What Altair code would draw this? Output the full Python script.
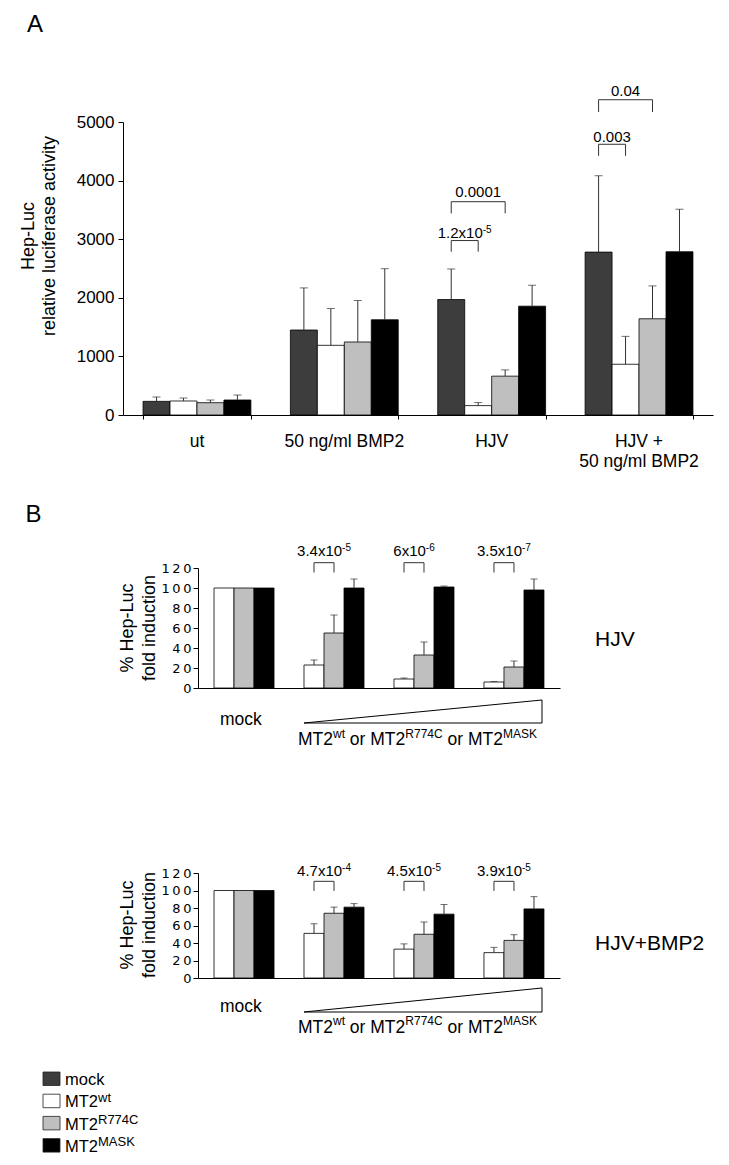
import altair as alt
import pandas as pd

FONT = "Liberation Sans"
FONT_B_TICKS = "DejaVu Sans"

# ---------------- data ----------------
series = ["mock", "MT2wt", "MT2R774C", "MT2MASK"]
series_colors = ["#3d3d3d", "#ffffff", "#bfbfbf", "#000000"]
legend_main = ["mock", "MT2", "MT2", "MT2"]
legend_sup = ["", "wt", "R774C", "MASK"]

# Panel A
a_conditions = ["ut", "50 ng/ml BMP2", "HJV", "HJV +\n50 ng/ml BMP2"]
a_mock = [233, 1450, 1970, 2780]
a_wt = [239, 1189, 160, 866]
a_r774c = [210, 1246, 663, 1642]
a_mask = [256, 1625, 1857, 2786]
a_mock_top = [307, 2169, 2492, 4083]
a_wt_top = [290, 1818, 212, 1342]
a_r774c_top = [256, 1954, 770, 2203]
a_mask_top = [341, 2497, 2214, 3511]
a_ticks = [0, 1000, 2000, 3000, 4000, 5000]

a_p_cond = ["HJV", "HJV", "HJV +\n50 ng/ml BMP2", "HJV +\n50 ng/ml BMP2"]
a_p_from = ["mock", "mock", "mock", "mock"]
a_p_to = ["MT2wt", "MT2R774C", "MT2wt", "MT2R774C"]
a_p_low = [2787, 3440, 4422, 5170]
a_p_high = [2977, 3640, 4620, 5380]
a_p_text = [3015, 3724, 4659, 5440]
a_p_main = ["1.2x10", "0.0001", "0.003", "0.04"]
a_p_sup = ["-5", "", "", ""]

# Panel B
b_groups = ["mock", "dose 1", "dose 2", "dose 3"]
b_series = ["MT2wt", "MT2R774C", "MT2MASK"]
b_ticks = [0, 20, 40, 60, 80, 100, 120]

hjv_wt = [100, 23, 9, 6]
hjv_r774c = [100, 55, 33, 21]
hjv_mask = [100, 100, 101, 98]
hjv_wt_top = [None, 28, 10, 6.5]
hjv_r774c_top = [None, 73, 46, 27]
hjv_mask_top = [None, 109, 102, 109]
hjv_p_group = ["dose 1", "dose 2", "dose 3"]
hjv_p_main = ["3.4x10", "6x10", "3.5x10"]
hjv_p_sup = ["-5", "-6", "-7"]
hjv_p_low = [115.5, 115.5, 115.5]
hjv_p_high = [125.3, 125.3, 125.3]
hjv_p_text = [132, 132, 132]

bmp_wt = [100, 51, 33, 29]
bmp_r774c = [100, 74, 50, 43]
bmp_mask = [100, 81, 73, 79]
bmp_wt_top = [None, 62, 39, 35]
bmp_r774c_top = [None, 81, 64, 49.5]
bmp_mask_top = [None, 85, 84, 93]
bmp_p_group = ["dose 1", "dose 2", "dose 3"]
bmp_p_main = ["4.7x10", "4.5x10", "3.9x10"]
bmp_p_sup = ["-4", "-5", "-5"]
bmp_p_low = [99.5, 99.5, 99.5]
bmp_p_high = [110.5, 110.5, 110.5]
bmp_p_text = [117, 117, 117]

# ---------------- helpers ----------------
ARIAL = {".": 0.278, "x": 0.5, "-": 0.333, " ": 0.278, "M": 0.833, "T": 0.611,
         "o": 0.556, "r": 0.333, "w": 0.722, "t": 0.278, "R": 0.722, "C": 0.722,
         "A": 0.667, "S": 0.667, "K": 0.667, "m": 0.833, "c": 0.5, "k": 0.5}


def tw(s, size):
    return sum(ARIAL.get(ch, 0.556) for ch in s) * size


dummy = pd.DataFrame({"k": [0]})
color_enc = alt.Color("series:N", scale=alt.Scale(domain=series, range=series_colors), legend=None)


def values_df(cats, sers, means, tops):
    rows = []
    for s, m, t in zip(sers, means, tops):
        for c, v, tv in zip(cats, m, t):
            rows.append({"cat": c, "series": s, "value": v, "top": tv})
    return pd.DataFrame(rows)


def bracket_df(cats, froms, tos, lows, highs):
    rows = []
    for i, (c, f, t, lo, hi) in enumerate(zip(cats, froms, tos, lows, highs)):
        rows += [
            {"id": i, "ord": 0, "cat": c, "series": f, "yv": lo},
            {"id": i, "ord": 1, "cat": c, "series": f, "yv": hi},
            {"id": i, "ord": 2, "cat": c, "series": t, "yv": hi},
            {"id": i, "ord": 3, "cat": c, "series": t, "yv": lo},
        ]
    return pd.DataFrame(rows)


def make_panel(df, cats, sers, xrange, pin, pout, ydom, yrange, yaxis, xaxis,
               cap, br_df, p_cats, p_from, p_to, p_text, p_main, p_sup,
               p_size, p_sup_size, p_raise):
    xs = alt.Scale(domain=cats, range=xrange, paddingInner=pin, paddingOuter=pout)
    xo = alt.Scale(domain=sers, paddingInner=0, paddingOuter=0)
    ys = alt.Scale(domain=ydom, range=yrange, nice=False, zero=False)
    X = alt.X("cat:N", scale=xs, axis=xaxis, title=None)
    XO = alt.XOffset("series:N", scale=xo)

    def Y(f):
        return alt.Y(f"{f}:Q", scale=ys, axis=yaxis, title=None)

    step = (xrange[1] - xrange[0]) / (len(cats) - pin + 2 * pout)
    sub = step * (1 - pin) / len(sers)

    base = alt.Chart(df)
    bars = base.mark_bar(stroke="black", strokeWidth=0.8).encode(
        x=X, xOffset=XO, y=Y("value"), color=color_enc)
    err = base.transform_filter("isValid(datum.top)").mark_rule(
        color="#333333", strokeWidth=1).encode(x=X, xOffset=XO, y=Y("value"), y2="top:Q")
    caps = base.transform_filter("isValid(datum.top)").mark_tick(
        orient="horizontal", size=cap, thickness=1, color="#333333").encode(
        x=X, xOffset=XO, y=Y("top"))
    brackets = alt.Chart(br_df).mark_line(color="#333333", strokeWidth=1).encode(
        x=X, xOffset=XO, y=Y("yv"), detail="id:N", order="ord:Q")
    layers = [bars, err, caps, brackets]
    for c, f, t, ty, m, s in zip(p_cats, p_from, p_to, p_text, p_main, p_sup):
        off = (sers.index(t) - sers.index(f)) / 2 * sub
        wm = tw(m, p_size)
        ws = tw(s, p_sup_size) if s else 0
        left = off - (wm + ws) / 2
        d = pd.DataFrame({"cat": [c], "series": [f], "ty": [ty]})
        layers.append(alt.Chart(d).mark_text(
            align="left", baseline="alphabetic", dx=left, fontSize=p_size, font=FONT,
            color="black").encode(x=X, xOffset=XO, y=Y("ty"), text=alt.value(m)))
        if s:
            layers.append(alt.Chart(d).mark_text(
                align="left", baseline="alphabetic", dx=left + wm, dy=-p_raise,
                fontSize=p_sup_size, font=FONT, color="black").encode(
                x=X, xOffset=XO, y=Y("ty"), text=alt.value(s)))
    return layers, X


def free_text(txt, x, y, size, align="left", baseline="alphabetic", angle=0, line_height=None):
    kw = dict(align=align, baseline=baseline, fontSize=size, font=FONT, color="black")
    if angle:
        kw["angle"] = angle
    if line_height:
        kw["lineBreak"] = "\n"
        kw["lineHeight"] = line_height
    return alt.Chart(dummy).mark_text(**kw).encode(
        x=alt.value(x), y=alt.value(y), text=alt.value(txt))


def composite(pieces, x0, base, main_size, sup_size, raise_px):
    out = []
    x = x0
    for txt, sup in pieces:
        size = sup_size if sup else main_size
        lead = len(txt) - len(txt.lstrip(" "))
        x += tw(" " * lead, size)
        t = txt.strip(" ")
        out.append(free_text(t, x, base - (raise_px if sup else 0), size))
        x += tw(t, size)
    return out


def seg(x1, y1, x2, y2):
    return alt.Chart(dummy).mark_rule(color="black", strokeWidth=1).encode(
        x=alt.value(x1), y=alt.value(y1), x2=alt.value(x2), y2=alt.value(y2))


# ---------------- panel A ----------------
H_TOTAL = 1149
a_df = values_df(a_conditions, series, [a_mock, a_wt, a_r774c, a_mask],
                 [a_mock_top, a_wt_top, a_r774c_top, a_mask_top])
a_br = bracket_df(a_p_cond, a_p_from, a_p_to, a_p_low, a_p_high)
a_yaxis = alt.Axis(orient="left", offset=-115, values=a_ticks, tickSize=5, labelFontSize=17,
                   labelFont=FONT, labelPadding=4, labelColor="black", domainColor="black",
                   tickColor="black", grid=False, title=None, format="d")
a_xaxis = alt.Axis(orient="bottom", offset=-(H_TOTAL - 407), labels=False, tickBand="extent",
                   tickSize=4, domainColor="black", tickColor="black", grid=False, title=None)
a_layers, a_X = make_panel(a_df, a_conditions, series, [115, 705], 0.268, 0.136, [0, 5000],
                           [407, 114], a_yaxis, a_xaxis, 8, a_br, a_p_cond, a_p_from, a_p_to,
                           a_p_text, a_p_main, a_p_sup, 15, 10, 5)
a_cat = alt.Chart(pd.DataFrame({"cat": a_conditions})).mark_text(
    baseline="top", lineBreak="\n", lineHeight=20, fontSize=17.5, font=FONT, color="black").encode(
    x=a_X, y=alt.value(425), text="cat:N")
panel_a = alt.layer(*a_layers, a_cat)

# ---------------- panel B ----------------
def b_panel(wt, r, m, wt_t, r_t, m_t, yrange, p_group, p_main, p_sup, p_low, p_high, p_text):
    df = values_df(b_groups, b_series, [wt, r, m], [wt_t, r_t, m_t])
    br = bracket_df(p_group, ["MT2wt"] * 3, ["MT2R774C"] * 3, p_low, p_high)
    yaxis = alt.Axis(orient="left", offset=-190, values=b_ticks, tickSize=5, labelFontSize=13,
                     labelFont=FONT_B_TICKS, labelPadding=2, labelColor="black",
                     domainColor="black", tickColor="black", grid=False, title=None,
                     labelExpr="join(split(datum.label, ''), '\u2009')")
    xaxis = alt.Axis(orient="bottom", offset=-(H_TOTAL - yrange[0]), labels=False, ticks=False,
                     domainColor="black", grid=False, title=None)
    layers, _ = make_panel(df, b_groups, b_series, [190, 552], 0.333, 0.178, [0, 120], yrange,
                           yaxis, xaxis, 7, br, p_group, ["MT2wt"] * 3, ["MT2R774C"] * 3,
                           p_text, p_main, p_sup, 15, 10, 5)
    return alt.layer(*layers)


panel_b1 = b_panel(hjv_wt, hjv_r774c, hjv_mask, hjv_wt_top, hjv_r774c_top, hjv_mask_top,
                   [680, 560], hjv_p_group, hjv_p_main, hjv_p_sup, hjv_p_low, hjv_p_high, hjv_p_text)
panel_b2 = b_panel(bmp_wt, bmp_r774c, bmp_mask, bmp_wt_top, bmp_r774c_top, bmp_mask_top,
                   [970, 865], bmp_p_group, bmp_p_main, bmp_p_sup, bmp_p_low, bmp_p_high, bmp_p_text)

# ---------------- legend ----------------
leg_df = pd.DataFrame({"series": series, "main": legend_main, "sup": legend_sup})
ly = alt.Y("series:N", scale=alt.Scale(domain=series, range=[1064, 1144.1], paddingInner=0.392,
                                       paddingOuter=0), axis=None)
leg_rect = alt.Chart(leg_df).mark_rect(stroke="#222222", strokeWidth=0.8).encode(
    x=alt.value(35), x2=alt.value(52), y=ly, color=color_enc)
leg_main = alt.Chart(leg_df).mark_text(align="left", baseline="alphabetic", dy=6.5, fontSize=16.5,
                                       font=FONT, color="black").encode(
    x=alt.value(57), y=ly, text="main:N")
leg_sup = alt.Chart(leg_df).mark_text(align="left", baseline="alphabetic", dy=1, fontSize=13,
                                      font=FONT, color="black").encode(
    x=alt.value(57 + tw("MT2", 16.5)), y=ly, text="sup:N")
legend = alt.layer(leg_rect, leg_main, leg_sup)

# ---------------- free texts / decorations ----------------
mt2_pieces = [("MT2", False), ("wt", True), (" or MT2", False), ("R774C", True),
              (" or MT2", False), ("MASK", True)]
extras = [
    free_text("A", 27, 24, 24, align="center"),
    free_text("B", 25.5, 514, 24, align="center"),
    free_text("Hep-Luc\nrelative luciferase activity", 21, 228, 18, align="center",
              baseline="middle", angle=270, line_height=21),
    free_text("% Hep-Luc\nfold induction", 120, 620, 18, align="center",
              baseline="middle", angle=270, line_height=22),
    free_text("% Hep-Luc\nfold induction", 120, 917, 18, align="center",
              baseline="middle", angle=270, line_height=22),
    free_text("HJV", 587, 637.5, 21),
    free_text("HJV+BMP2", 587, 941.5, 21),
    free_text("mock", 212, 717, 17.5),
    free_text("mock", 212, 1004.3, 17.5),
    seg(296, 715, 534, 692), seg(534, 692, 534, 715), seg(534, 715, 296, 715),
    seg(296, 1004, 534, 980), seg(534, 980, 534, 1004), seg(534, 1004, 296, 1004),
]
extras += composite(mt2_pieces, 290, 737, 17.5, 12, 7.5)
extras += composite(mt2_pieces, 290, 1024.7, 17.5, 12, 7.5)

chart = alt.layer(panel_a, panel_b1, panel_b2, legend, *extras).resolve_scale(
    x="independent", y="independent", xOffset="independent", color="independent"
).properties(
    width=713, height=H_TOTAL, padding=0,
    autosize=alt.AutoSizeParams(type="none"),
).configure_view(strokeWidth=0)

chart.save("out.html", embed_options={"renderer": "svg", "actions": False})
